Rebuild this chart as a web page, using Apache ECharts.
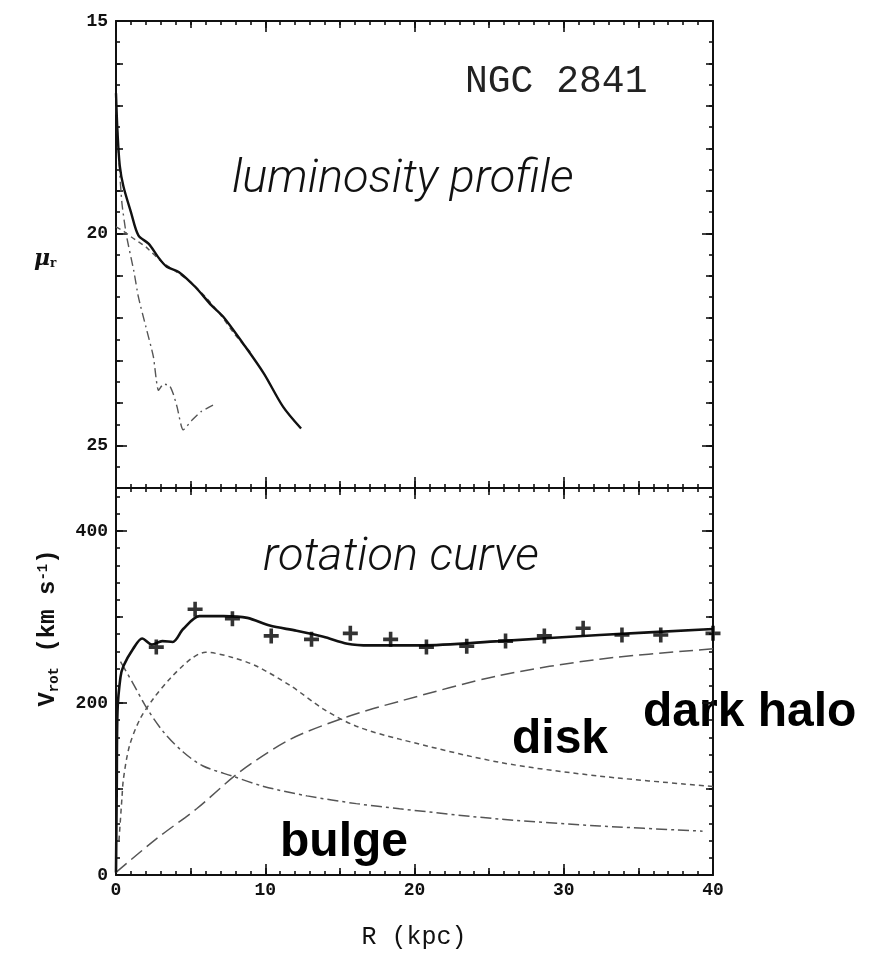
<!DOCTYPE html>
<html><head><meta charset="utf-8">
<script src="https://cdn.jsdelivr.net/npm/echarts@6/dist/echarts.min.js"></script>
<style>html,body{margin:0;padding:0;background:#fff}#c{width:875px;height:955px}</style>
</head><body><div id="c"></div>
<script>
// ---------- data ----------
const xTickLabels = [0, 10, 20, 30, 40];
const muTickLabels = [15, 20, 25];
const vTickLabels = [0, 200, 400];

// luminosity profile: [R (kpc), mu_r]
const lumTotal = [[0,16.7],[0.1,17.6],[0.25,18.4],[0.5,18.9],[1.0,19.5],[1.5,20.05],[2.2,20.25],[2.8,20.55],[3.4,20.79],[4.2,20.91],[5.3,21.26],[6.4,21.7],[7.2,21.97],[8.5,22.59],[9.9,23.3],[11.2,24.09],[12.4,24.6]];
const lumDisk = [[0,19.85],[0.5,19.95],[1,20.08],[1.5,20.2],[2,20.32],[3,20.65],[4,20.9],[5,21.15],[6,21.5],[7,21.92],[8,22.4],[9,22.8]];
const lumBulge = [[0,17.0],[0.2,18.3],[0.4,19.3],[0.7,20.05],[1.2,20.9],[1.5,21.5],[2.0,22.2],[2.5,22.9],[2.85,23.7],[3.2,23.55],[3.6,23.6],[3.85,23.8],[4.1,24.1],[4.5,24.63],[5.1,24.4],[5.7,24.2],[6.5,24.05]];

// rotation curve: [R (kpc), V (km/s)]
const rotTotal = [[0,3],[0.05,100],[0.1,190],[0.3,230],[0.5,243],[1.15,263],[1.75,275],[2.4,268],[3.1,272],[3.8,271],[4.5,286],[5.6,301],[7.2,301],[8.8,299],[10.3,290],[12.1,284],[13.9,277],[15.5,269],[17,267],[19,267],[20.4,267],[25.7,272],[32.4,279],[40,286]];
const rotObs = [[2.7,265],[5.3,309],[7.8,298],[10.4,278],[13.1,274],[15.7,281],[18.4,274],[20.8,265],[23.5,266],[26.1,272],[28.7,278],[31.3,287],[33.9,279],[36.5,279],[40,281]];
const rotDisk = [[0.2,40],[0.4,90],[0.5,112],[0.9,150],[1.6,181],[2.5,205],[3.6,228],[5,251],[6,259],[7.8,253],[9.4,243],[11.7,220],[13.9,193],[16.1,173],[19,158],[25.7,131],[32.4,115],[40,103]];
const rotBulge = [[0.3,248],[1.1,224],[2.1,193],[3.2,166],[4.5,143],[5.8,127],[7.8,115],[9.9,103],[12.8,92],[16.1,83],[19,77],[25.7,65],[32.4,57],[39.3,51]];
const rotHalo = [[0,3],[2.7,42],[5.4,77],[8.3,120],[11.7,158],[15.5,184],[19,202],[25.7,232],[32.4,251],[40,263]];

// ---------- chart ----------
const TICK_FONT = "'Courier New','Liberation Mono',monospace";
const INK = '#111';
const xAxes = [], yAxes = [];
function addAxes(list, gridIndex, position, min, max, inverse, levels, labels, labelMargin) {
  const first = list.length;
  levels.forEach((lv, i) => {
    list.push({
      type: 'value', gridIndex, position, min, max, inverse: !!inverse, interval: lv[0],
      axisLine: { show: i === 0, onZero: false, lineStyle: { color: INK, width: 2 } },
      axisTick: { show: true, inside: true, length: lv[1], lineStyle: { color: INK, width: 1.6 } },
      axisLabel: (i === 0 && labels) ? {
        show: true, margin: labelMargin, color: INK, fontFamily: TICK_FONT, fontSize: 18, fontWeight: 'bold',
        showMinLabel: true, showMaxLabel: true,
        formatter: v => labels.includes(v) ? String(v) : ''
      } : { show: false },
      splitLine: { show: false }, minorTick: { show: false }, axisPointer: { show: false }
    });
  });
  return first;
}
const xLv = [[10, 11], [5, 7], [1, 4]];
const muLv = [[5, 11], [1, 7], [0.5, 4]];
const vLv = [[200, 11], [100, 7], [20, 4]];

// top panel
const xTopMain = addAxes(xAxes, 0, 'bottom', 0, 40, false, xLv, null, 0);
addAxes(xAxes, 0, 'top', 0, 40, false, xLv, null, 0);
const yTopMain = addAxes(yAxes, 0, 'left', 15, 26, true, muLv, muTickLabels, 8);
addAxes(yAxes, 0, 'right', 15, 26, true, muLv, null, 0);
// bottom panel
const xBotMain = addAxes(xAxes, 1, 'bottom', 0, 40, false, xLv, xTickLabels, 6);
addAxes(xAxes, 1, 'top', 0, 40, false, xLv, null, 0);
const yBotMain = addAxes(yAxes, 1, 'left', 0, 450, false, vLv, vTickLabels, 8);
addAxes(yAxes, 1, 'right', 0, 450, false, vLv, null, 0);

const plus = 'path://M3.8,0 L6.2,0 L6.2,3.8 L10,3.8 L10,6.2 L6.2,6.2 L6.2,10 L3.8,10 L3.8,6.2 L0,6.2 L0,3.8 L3.8,3.8 Z';
function line(data, xi, yi, type, width, color, smooth) {
  return { type: 'line', data, xAxisIndex: xi, yAxisIndex: yi, showSymbol: false, symbol: 'none',
    smooth: smooth, lineStyle: { color, width, type }, silent: true, z: 3 };
}
const GRAY = '#555';
const BOLD = "bold 48px 'Liberation Sans', Arial, sans-serif";
const LIGHT = "italic 300 47px Roboto, 'Liberation Sans', sans-serif";
const option = {
  animation: false,
  backgroundColor: '#fff',
  grid: [
    { left: 116, top: 21, width: 597, height: 467, containLabel: false },
    { left: 116, top: 488, width: 597, height: 387, containLabel: false }
  ],
  xAxis: xAxes,
  yAxis: yAxes,
  series: [
    line(lumDisk, xTopMain, yTopMain, [5, 4], 1.4, GRAY, 0.3),
    line(lumBulge, xTopMain, yTopMain, [9, 4, 2, 4], 1.4, GRAY, 0.2),
    line(lumTotal, xTopMain, yTopMain, 'solid', 2.4, INK, 0.3),
    line(rotDisk, xBotMain, yBotMain, [5, 4], 1.5, GRAY, 0.3),
    line(rotBulge, xBotMain, yBotMain, [11, 4, 3, 4], 1.5, GRAY, 0.3),
    line(rotHalo, xBotMain, yBotMain, [14, 6], 1.5, GRAY, 0.3),
    line(rotTotal, xBotMain, yBotMain, 'solid', 2.6, INK, 0.3),
    { type: 'scatter', data: rotObs, xAxisIndex: xBotMain, yAxisIndex: yBotMain, symbol: plus, symbolSize: 15,
      itemStyle: { color: '#000' }, silent: true, z: 4 }
  ],
  graphic: [
    { type: 'text', left: 465, top: 63, style: { text: 'NGC 2841', font: "38px 'Courier New','Liberation Mono',monospace", fill: '#222' } },
    { type: 'text', left: 232, top: 157, style: { text: 'luminosity profile', font: LIGHT, fill: '#111' } },
    { type: 'text', left: 263, top: 535, style: { text: 'rotation curve', font: LIGHT, fill: '#111' } },
    { type: 'text', left: 643, top: 689, style: { text: 'dark halo', font: BOLD, fill: '#000' } },
    { type: 'text', left: 512, top: 716, style: { text: 'disk', font: BOLD, fill: '#000' } },
    { type: 'text', left: 280, top: 819, style: { text: 'bulge', font: BOLD, fill: '#000' } },
    { type: 'text', left: 34, top: 248, style: { text: '{m|μ}{s|r}', rich: {
        m: { font: "italic bold 22px 'DejaVu Serif', serif", fill: '#111' },
        s: { font: "bold 12px 'DejaVu Serif', serif", fill: '#111', padding: [10, 0, 0, 0] } } } },
    { type: 'text', x: 48, y: 628, rotation: Math.PI / 2, style: {
        text: 'V{s|rot} (km s{p|-1})', align: 'center', verticalAlign: 'middle',
        font: "bold 24px 'Courier New','Liberation Mono',monospace", fill: '#111',
        rich: {
          s: { font: "bold 14px 'Courier New','Liberation Mono',monospace", fill: '#111', padding: [12, 0, 0, 0] },
          p: { font: "bold 14px 'Courier New','Liberation Mono',monospace", fill: '#111', padding: [0, 0, 10, 0] }
        } } },
    { type: 'text', x: 414, y: 937, style: { text: 'R (kpc)', align: 'center', verticalAlign: 'middle',
        font: "25px 'Courier New','Liberation Mono',monospace", fill: '#111' } }
  ]
};
const chart = echarts.init(document.getElementById('c'), null, { renderer: 'canvas' });
chart.setOption(option);
</script>
</body></html>
